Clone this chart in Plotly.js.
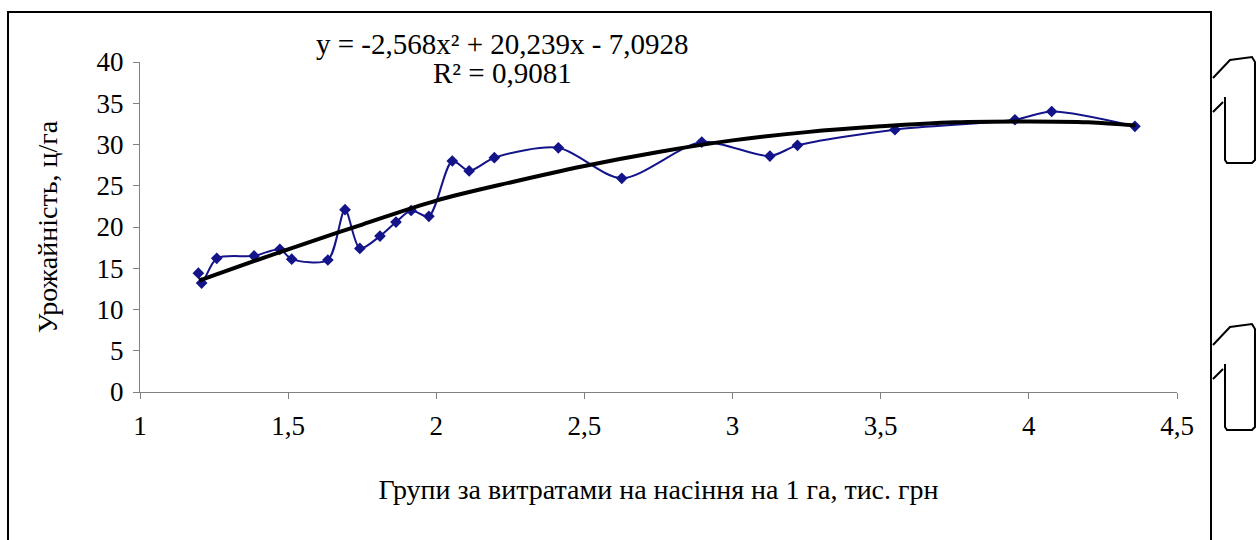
<!DOCTYPE html>
<html>
<head>
<meta charset="utf-8">
<script src="https://cdn.plot.ly/plotly-3.0.1.min.js"></script>
<style>html,body{margin:0;padding:0;background:#fff;}#chart{width:1260px;height:540px;}</style>
</head>
<body>
<div id="chart"></div>
<script>
const seedCost = [1.197, 1.208, 1.259, 1.385, 1.472, 1.512, 1.634, 1.692, 1.742, 1.81, 1.864, 1.915, 1.975, 2.054, 2.111, 2.196, 2.412, 2.626, 2.896, 3.126, 3.219, 3.548, 3.953, 4.077, 4.358];
const yieldVals = [14.4, 13.2, 16.2, 16.5, 17.3, 16.1, 16.0, 22.1, 17.4, 18.9, 20.6, 22.0, 21.3, 28.0, 26.8, 28.4, 29.6, 25.9, 30.3, 28.6, 29.9, 31.8, 33.0, 34.0, 32.2];

// Polynomial trend line
const trendX = [1.2, 1.5, 1.75, 2.0, 2.25, 2.5, 2.75, 3.0, 3.25, 3.5, 3.75, 4.0, 4.2, 4.36];
const trendY = [13.5, 17.3, 20.3, 23.2, 25.4, 27.4, 29.1, 30.5, 31.5, 32.2, 32.7, 32.8, 32.7, 32.3];

const equationText = "y = -2,568x² + 20,239x - 7,0928";
const r2Text = "R² = 0,9081";
const xTitle = "Групи за витратами на насіння на 1 га, тис. грн";
const yTitle = "Урожайність, ц/га";

const FONT = "Liberation Serif";

// helpers for decorative page shapes (pixel -> paper coords)
const L = 140, R = 1177, T = 62, B = 392;
const px = v => (v - L) / (R - L);
const py = v => (B - v) / (B - T);
function bracketPath(dy) {
  const pts = [
    ['M', 1213, 78 + dy], ['L', 1230, 60 + dy], ['L', 1252, 57 + dy], ['L', 1255, 62 + dy],
    ['L', 1255, 160 + dy], ['L', 1252, 163 + dy], ['L', 1227, 163 + dy], ['L', 1225, 160 + dy],
    ['L', 1225, 97 + dy]
  ];
  let s = pts.map(p => p[0] + ' ' + px(p[1]).toFixed(4) + ' ' + py(p[2]).toFixed(4)).join(' ');
  s += ' M ' + px(1213).toFixed(4) + ' ' + py(112 + dy).toFixed(4) + ' L ' + px(1223).toFixed(4) + ' ' + py(102 + dy).toFixed(4);
  return s;
}

const traces = [
  {
    x: seedCost, y: yieldVals, type: 'scatter', mode: 'lines+markers',
    line: {color: '#14148a', width: 2, shape: 'spline', smoothing: 0.8},
    marker: {symbol: 'diamond', size: 9, color: '#14148a'},
    hoverinfo: 'x+y', showlegend: false
  },
  {
    x: trendX, y: trendY, type: 'scatter', mode: 'lines',
    line: {color: '#000000', width: 4, shape: 'spline', smoothing: 1},
    hoverinfo: 'skip', showlegend: false
  }
];

const layout = {
  width: 1260, height: 540,
  paper_bgcolor: '#ffffff', plot_bgcolor: '#ffffff',
  separators: ', ',
  margin: {l: L, r: 1260 - R, t: T, b: 540 - B},
  font: {family: FONT, size: 26, color: '#000'},
  showlegend: false,
  xaxis: {
    range: [1, 4.5], tickvals: [1, 1.5, 2, 2.5, 3, 3.5, 4, 4.5],
    showgrid: false, zeroline: false, showline: true, linecolor: '#808080', linewidth: 1,
    ticks: 'outside', ticklen: 6, tickcolor: '#808080',
    tickfont: {family: FONT, size: 27}, ticklabelstandoff: 4,
    title: {text: xTitle, font: {family: FONT, size: 28}, standoff: 38},
    automargin: false
  },
  yaxis: {
    range: [0, 40], tickvals: [0, 5, 10, 15, 20, 25, 30, 35, 40],
    showgrid: false, zeroline: false, showline: true, linecolor: '#808080', linewidth: 1,
    ticks: 'outside', ticklen: 6, tickcolor: '#808080',
    tickfont: {family: FONT, size: 27}, ticklabelstandoff: 4,
    title: {text: yTitle, font: {family: FONT, size: 28}, standoff: 30},
    automargin: false
  },
  annotations: [
    {xref: 'paper', yref: 'paper', x: px(502), y: py(44), text: equationText, showarrow: false,
     xanchor: 'center', yanchor: 'middle', font: {family: FONT, size: 29, color: '#000'}},
    {xref: 'paper', yref: 'paper', x: px(502), y: py(73), text: r2Text, showarrow: false,
     xanchor: 'center', yanchor: 'middle', font: {family: FONT, size: 29, color: '#000'}}
  ],
  shapes: [
    {type: 'rect', xref: 'paper', yref: 'paper', x0: px(8), x1: px(1211), y0: py(560), y1: py(12),
     line: {color: '#000', width: 2}, fillcolor: 'rgba(0,0,0,0)', layer: 'below'},
    {type: 'path', xref: 'paper', yref: 'paper', path: bracketPath(0), line: {color: '#000', width: 2}},
    {type: 'path', xref: 'paper', yref: 'paper', path: bracketPath(267), line: {color: '#000', width: 2}}
  ]
};

Plotly.newPlot('chart', traces, layout, {displayModeBar: false, staticPlot: true});
</script>
</body>
</html>
